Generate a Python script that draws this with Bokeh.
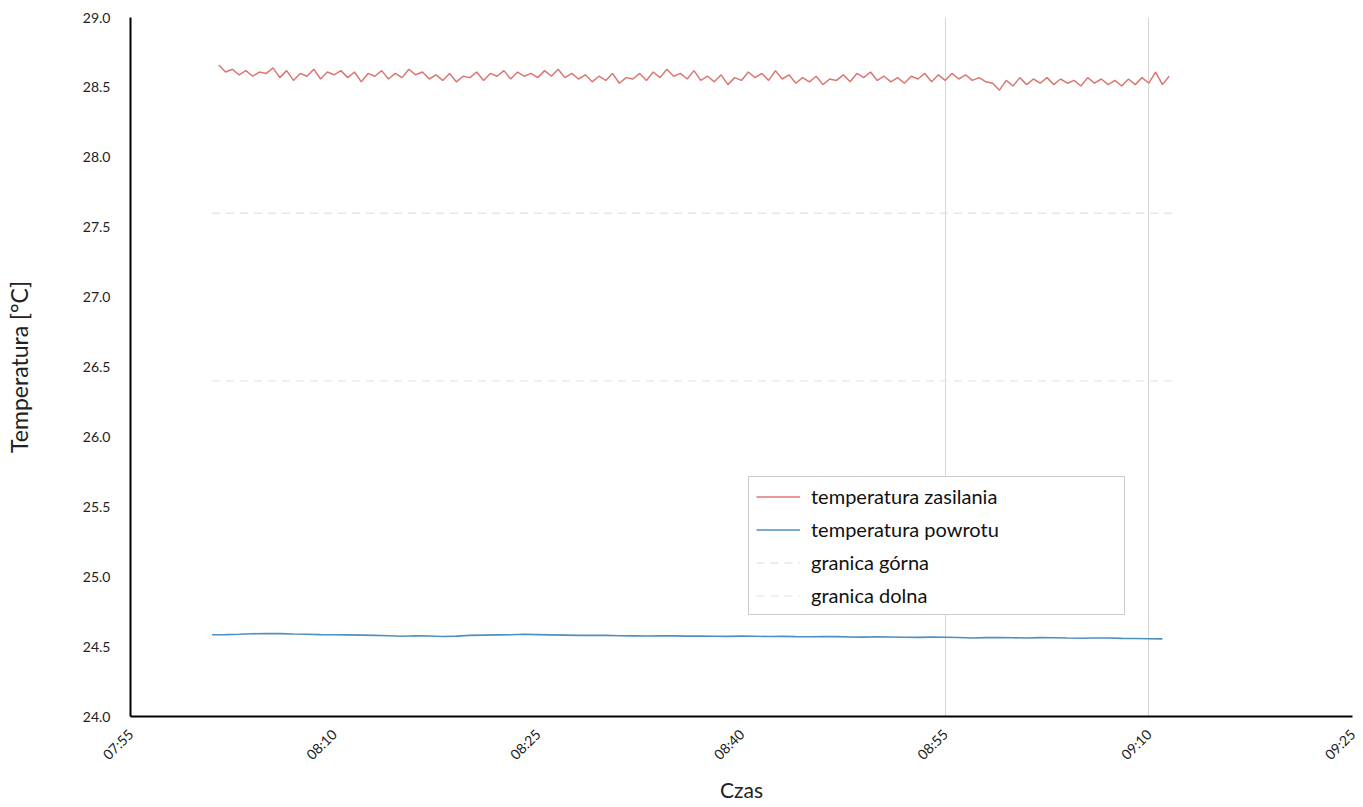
import numpy as np
import pandas as pd
from bokeh.plotting import figure
from bokeh.models import (Range1d, FixedTicker, NumeralTickFormatter, Legend,
                          LegendItem)
from bokeh.embed import file_html
from bokeh.resources import INLINE

# ---------------- data ----------------
supply_start = "2020-01-01 08:01:30"
supply_step_s = 30
supply_temp = [
    28.66, 28.61, 28.63, 28.59, 28.62, 28.58, 28.61, 28.60, 28.64, 28.57,
    28.62, 28.55, 28.60, 28.58, 28.63, 28.56, 28.61, 28.59,
    28.62, 28.57, 28.61, 28.54, 28.60, 28.58, 28.62, 28.56, 28.60, 28.57,
    28.63, 28.59, 28.61, 28.56, 28.59, 28.55, 28.60, 28.54, 28.58, 28.57,
    28.61, 28.55, 28.60, 28.58, 28.62, 28.56, 28.61, 28.58, 28.60, 28.57,
    28.62, 28.58, 28.63, 28.57, 28.60, 28.56, 28.59, 28.54, 28.58, 28.55,
    28.60, 28.53, 28.57, 28.56, 28.60, 28.55, 28.61, 28.57, 28.63, 28.58,
    28.60, 28.56, 28.62, 28.55, 28.58, 28.54, 28.59, 28.52, 28.57, 28.55,
    28.61, 28.57, 28.60, 28.55, 28.62, 28.56, 28.59, 28.53, 28.57, 28.54,
    28.58, 28.52, 28.56, 28.55, 28.59, 28.54, 28.60, 28.57, 28.61, 28.55,
    28.58, 28.54, 28.57, 28.53, 28.58, 28.56, 28.60, 28.54, 28.59, 28.55,
    28.60, 28.56, 28.59, 28.55, 28.57, 28.54, 28.53, 28.48, 28.55, 28.51,
    28.57, 28.52, 28.56, 28.53, 28.57, 28.52, 28.56, 28.53, 28.55, 28.51,
    28.57, 28.53, 28.56, 28.52, 28.55, 28.51, 28.56, 28.52, 28.57, 28.53,
    28.61, 28.52, 28.58,
]

return_start = "2020-01-01 08:01:00"
return_step_s = 60
return_temp = [
    24.585, 24.586, 24.588, 24.592, 24.594, 24.593, 24.590, 24.588, 24.586, 24.585,
    24.584, 24.582, 24.580, 24.578, 24.574, 24.578, 24.576, 24.572, 24.575, 24.580,
    24.582, 24.584, 24.585, 24.588, 24.586, 24.584, 24.582, 24.580, 24.581, 24.580,
    24.578, 24.577, 24.576, 24.578, 24.577, 24.575, 24.576, 24.574, 24.573, 24.575,
    24.574, 24.572, 24.573, 24.571, 24.570, 24.572, 24.571, 24.569, 24.568, 24.570,
    24.569, 24.567, 24.566, 24.568, 24.567, 24.565, 24.562, 24.564, 24.565, 24.563,
    24.562, 24.564, 24.563, 24.561, 24.560, 24.562, 24.561, 24.559, 24.558, 24.556,
    24.555,
]

limit_times = ["2020-01-01 08:01:00", "2020-01-01 09:12:00"]
upper_limit = [27.6, 27.6]
lower_limit = [26.4, 26.4]

x_start = "2020-01-01 07:55"
x_end = "2020-01-01 09:25"
x_tick_labels = ["07:55", "08:10", "08:25", "08:40", "08:55", "09:10", "09:25"]
y_min, y_max, y_step = 24.0, 29.0, 0.5

series_names = ["temperatura zasilania", "temperatura powrotu",
                "granica górna", "granica dolna"]

# ---------------- build ----------------
t_supply = pd.date_range(supply_start, periods=len(supply_temp),
                         freq=f"{supply_step_s}s")
t_return = pd.date_range(return_start, periods=len(return_temp),
                         freq=f"{return_step_s}s")
t_limit = pd.to_datetime(limit_times)

xs = pd.Timestamp(x_start)
xe = pd.Timestamp(x_end)
day = x_start.split(" ")[0]
x_ticks = pd.to_datetime([f"{day} {lab}" for lab in x_tick_labels])
x_ticks_ms = [float(t.value // 10**6) for t in x_ticks]

FONT = "Lato"

p = figure(frame_width=1222, frame_height=699, x_axis_type="datetime",
           output_backend="svg", toolbar_location=None,
           x_range=Range1d(xs, xe), y_range=Range1d(y_min, y_max),
           min_border_left=130, min_border_right=11,
           min_border_top=17, min_border_bottom=91)
p.outline_line_color = None
p.background_fill_color = "white"

r_up = p.line(t_limit, upper_limit, line_color="#e9e8d8", line_width=1.5,
              line_dash="8 6")
r_lo = p.line(t_limit, lower_limit, line_color="#ebebeb", line_width=1.5,
              line_dash="8 6")
r_sup = p.line(t_supply, supply_temp, line_color="#dc7672", line_width=1.5)
r_ret = p.line(t_return, return_temp, line_color="#4f8fbf", line_width=1.6)

# axes
p.xaxis.ticker = FixedTicker(ticks=x_ticks_ms)
p.xaxis.major_label_overrides = {t: lab for t, lab in
                                 zip(x_ticks_ms, x_tick_labels)}
p.xaxis.major_label_orientation = np.pi / 4
p.yaxis.ticker = FixedTicker(ticks=list(np.arange(y_min, y_max + 0.01, y_step)))
p.yaxis.formatter = NumeralTickFormatter(format="0.0")

for ax in (p.xaxis[0], p.yaxis[0]):
    ax.axis_line_color = "black"
    ax.axis_line_width = 2
    ax.major_tick_line_color = None
    ax.minor_tick_line_color = None
    ax.major_label_text_font = FONT
    ax.major_label_text_color = "#222222"
    ax.major_label_text_font_size = "14px"
    ax.axis_label_text_font = FONT
    ax.axis_label_text_font_style = "normal"
    ax.axis_label_text_color = "#222222"

p.yaxis.axis_label = "Temperatura [°C]"
p.yaxis.axis_label_text_font_size = "23px"
p.yaxis.axis_label_standoff = 47
p.yaxis.major_label_standoff = 14

p.xaxis.axis_label = "Czas"
p.xaxis.axis_label_text_font_size = "21px"
p.xaxis.major_label_standoff = 9
p.xaxis.axis_label_standoff = 5

# grid
p.ygrid.grid_line_color = None
p.xgrid.ticker = FixedTicker(ticks=x_ticks_ms[4:])
p.xgrid.grid_line_color = "#d6d6d6"
p.xgrid.grid_line_width = 1

legend = Legend(items=[
    LegendItem(label=series_names[0], renderers=[r_sup]),
    LegendItem(label=series_names[1], renderers=[r_ret]),
    LegendItem(label=series_names[2], renderers=[r_up]),
    LegendItem(label=series_names[3], renderers=[r_lo]),
], location=(618, 101))
legend.label_text_font = FONT
legend.label_text_font_size = "20px"
legend.label_text_color = "#111111"
legend.glyph_width = 44
legend.glyph_height = 21
legend.label_height = 21
legend.label_width = 306
legend.label_standoff = 11
legend.spacing = 9
legend.padding = 7
legend.margin = 0
legend.border_line_color = "#9a9a9a"
legend.border_line_width = 1
legend.background_fill_alpha = 1
p.add_layout(legend)

open("out.html", "w").write(file_html(p, INLINE))
